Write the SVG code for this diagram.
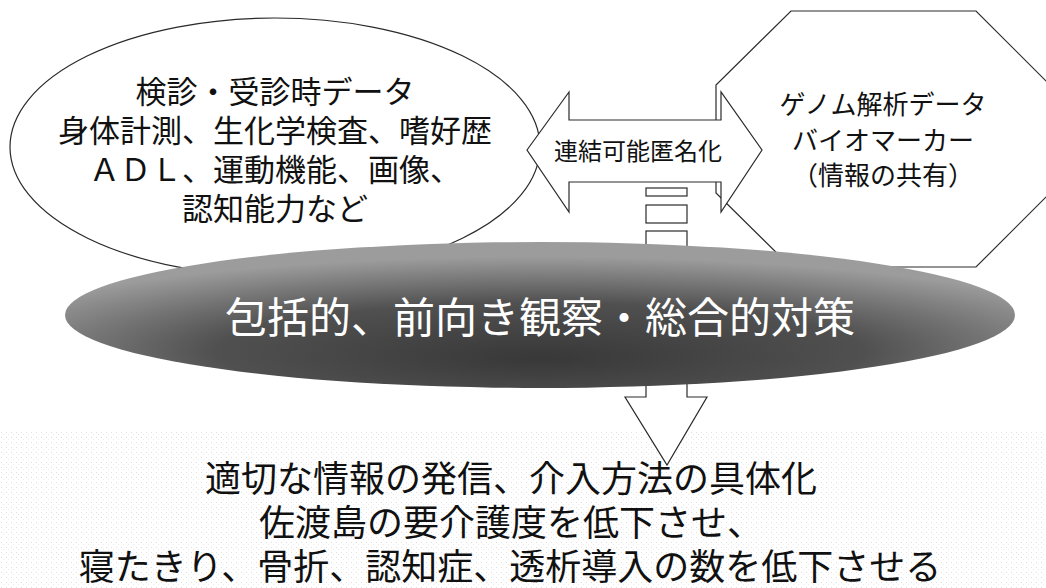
<svg xmlns="http://www.w3.org/2000/svg" width="1046" height="588" viewBox="0 0 1046 588">
  <style>
    .shape { fill: #ffffff; stroke: #2a2a2a; stroke-width: 1.2; }
    .jp { font-family: "Noto Sans CJK JP", "Noto Sans", sans-serif; text-anchor: middle; fill: #111111; }
    .big { font-size: 31px; }
    .mid { font-size: 26px; }
    .lbl { font-size: 24px; }
    .title { font-size: 42px; fill: #ffffff; }
    .bottom { font-size: 36px; }
  </style>
  <defs>
    <radialGradient id="darkGrad" cx="50%" cy="72%" r="62%" fx="50%" fy="80%">
      <stop offset="0" stop-color="#383838"/>
      <stop offset="0.55" stop-color="#505050"/>
      <stop offset="1" stop-color="#9c9c9c"/>
    </radialGradient>
    <pattern id="speckle" width="5" height="5" patternUnits="userSpaceOnUse">
      <rect x="0" y="0" width="5" height="5" fill="#ffffff"/>
      <rect x="1" y="2" width="1" height="1" fill="#c4c4c4"/>
      <rect x="3" y="4" width="1" height="1" fill="#dcdcdc"/>
    </pattern>
  </defs>

  <rect x="0" y="0" width="1046" height="588" fill="#ffffff"/>
  <rect x="0" y="430" width="1046" height="158" fill="url(#speckle)" opacity="0.55"/>

  <g id="node-checkup">
    <ellipse class="shape" cx="275" cy="147" rx="265" ry="129"/>
    <text class="jp big" x="275" y="103">検診・受診時データ</text>
    <text class="jp big" x="275" y="142">身体計測、生化学検査、嗜好歴</text>
    <text class="jp big" x="275" y="181">ＡＤＬ、運動機能、画像、</text>
    <text class="jp big" x="275" y="220">認知能力など</text>
  </g>

  <g id="node-genome">
    <polygon class="shape" points="791,11 976,11 1050,85 1050,193 976,267 791,267 716,193 716,85"/>
    <text class="jp mid" x="883" y="114">ゲノム解析データ</text>
    <text class="jp mid" x="883" y="150">バイオマーカー</text>
    <text class="jp mid" x="883" y="185">（情報の共有）</text>
  </g>

  <g id="connectors">
    <g id="link-anonymize">
      <path class="shape" d="M527,150 L569,92 V120 H721 V92 L762,150 L721,212 V182 H569 V212 Z"/>
      <text class="jp lbl" x="638" y="160">連結可能匿名化</text>
    </g>
    <g id="arrow-down">
      <rect class="shape" x="646" y="188" width="41" height="8"/>
      <rect class="shape" x="646" y="205" width="41" height="18"/>
      <rect class="shape" x="646" y="231" width="41" height="30"/>
      <path class="shape" d="M646,330 V397 H625 L667,465 L707,397 H687 V330 Z"/>
    </g>
  </g>

  <g id="node-center">
    <ellipse cx="540" cy="315" rx="475" ry="73" fill="url(#darkGrad)"/>
    <text class="jp title" x="540" y="333">包括的、前向き観察・総合的対策</text>
  </g>

  <g id="node-outcome">
    <text class="jp bottom" x="511" y="492">適切な情報の発信、介入方法の具体化</text>
    <text class="jp bottom" x="511" y="536">佐渡島の要介護度を低下させ、</text>
    <text class="jp bottom" x="510" y="580">寝たきり、骨折、認知症、透析導入の数を低下させる</text>
  </g>
</svg>
